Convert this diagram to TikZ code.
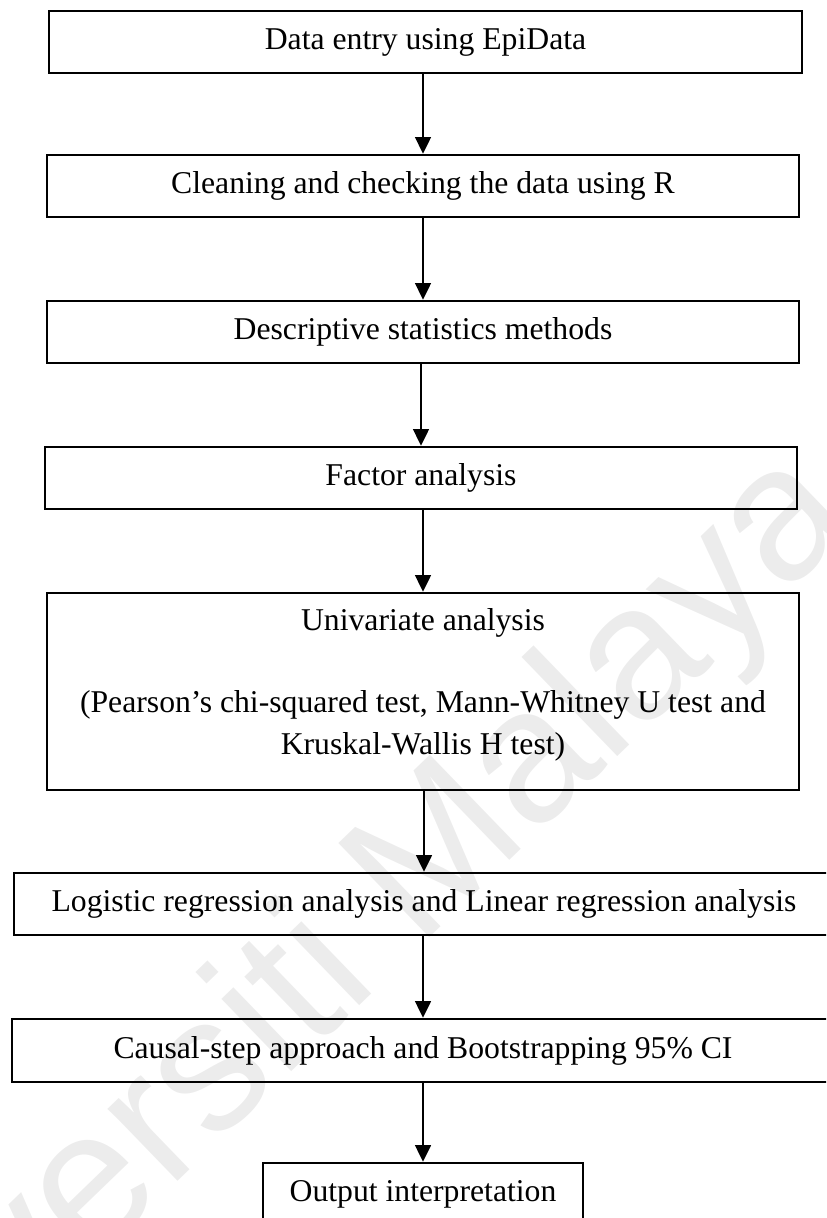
\documentclass[tikz,border=0pt]{standalone}
\usepackage{fontspec}
\setmainfont{Liberation Serif}
\newfontfamily\markfont{Liberation Sans}
\usetikzlibrary{arrows.meta}
\definecolor{markgray}{gray}{0.925}
\tikzset{
  boxw/.style={minimum width=#1*0.3785pt},
  boxh/.style={minimum height=#1*0.3785pt},
  flowtext/.style={inner sep=0pt, font=\fontsize{12}{14}\selectfont},
  flowbox/.style={flowtext, draw=black, line width=1pt},
  flowarrow/.style={-{Triangle[length=6.3pt,width=6pt]}, line width=0.8pt},
}
\begin{document}
\begin{tikzpicture}[x=0.3785pt, y=-0.3785pt]
  \useasboundingbox (0,0) rectangle (826,1218);
  \clip (0,0) rectangle (826,1218);

  % faint repository watermark behind the chart
  \node[rotate=44, text=markgray, inner sep=0pt,
        font=\markfont\fontsize{72}{80}\selectfont] (mark) at (305,990) {Universiti Malaya};

  % processing steps
  \node[flowbox, boxw=753, boxh=62] (entry)  at (425.5,42)  {Data entry using EpiData};
  \node[flowbox, boxw=752, boxh=62] (clean)  at (423,186)   {Cleaning and checking the data using R};
  \node[flowbox, boxw=752, boxh=62] (desc)   at (423,332)   {Descriptive statistics methods};
  \node[flowbox, boxw=752, boxh=62] (factor) at (421,478)   {Factor analysis};
  \node[flowbox, boxw=752, boxh=197] (univ)  at (423,691.5) {};
  \node[flowtext] (univA) at (423,623) {Univariate analysis};
  \node[flowtext] (univB) at (423,705) {(Pearson’s chi-squared test, Mann-Whitney U test and};
  \node[flowtext] (univC) at (423,747) {Kruskal-Wallis H test)};
  \node[flowbox, boxw=820, boxh=62] (regr)   at (424,904)   {Logistic regression analysis and Linear regression analysis};
  \node[flowbox, boxw=822, boxh=63] (boot)   at (423,1050.5) {Causal-step approach and Bootstrapping 95\% CI};
  \node[flowbox, boxw=320, boxh=63] (out)    at (423,1194.5) {Output interpretation};

  % connectors
  \draw[flowarrow] (clean.north |- entry.south)  -- (clean.north);
  \draw[flowarrow] (desc.north |- clean.south)   -- (desc.north);
  \draw[flowarrow] (factor.north |- desc.south)  -- (factor.north);
  \draw[flowarrow] (univ.north |- factor.south)  -- (univ.north);
  \draw[flowarrow] (regr.north |- univ.south)    -- (regr.north);
  \draw[flowarrow] (boot.north |- regr.south)    -- (boot.north);
  \draw[flowarrow] (out.north |- boot.south)     -- (out.north);
\end{tikzpicture}
\end{document}
